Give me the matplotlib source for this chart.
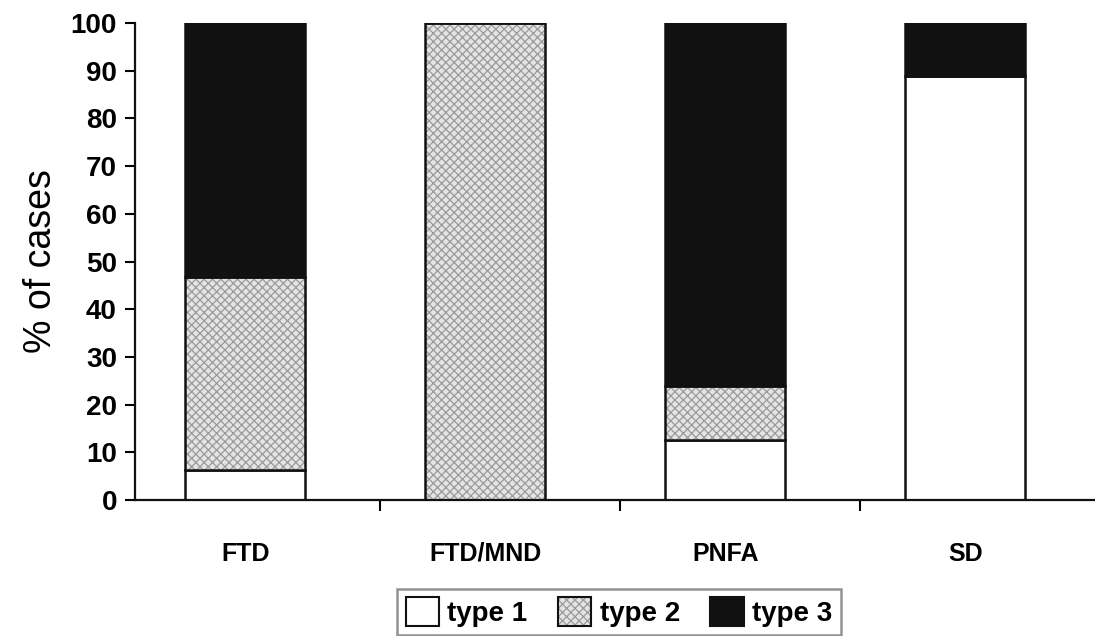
import matplotlib
matplotlib.use("Agg")
import matplotlib.pyplot as plt
from matplotlib.patches import Patch
from matplotlib.legend_handler import HandlerTuple
import numpy as np

# data (% of cases)
categories = ["FTD", "FTD/MND", "PNFA", "SD"]
type1 = [6.25, 0.0, 12.5, 88.9]
type2 = [40.6, 100.0, 11.3, 0.0]
type3 = [53.15, 0.0, 76.2, 11.1]
series_names = ["type 1", "type 2", "type 3"]

plt.rcParams["font.family"] = ["Liberation Sans", "DejaVu Sans"]
plt.rcParams["hatch.linewidth"] = 0.9

HATCH_GREY = "#9a9a9a"
FILL_GREY = "#e4e4e4"
BLACK = "#111111"

fig = plt.figure(figsize=(10.95, 6.36), dpi=100)
ax = fig.add_axes([0.1233, 0.2138, 0.8767, 0.75])

x = np.arange(len(categories))
w = 0.5
t1 = np.array(type1)
t2 = np.array(type2)
t3 = np.array(type3)

# type 1 - white
ax.bar(x, t1, w, color="white", edgecolor=BLACK, linewidth=1.8, zorder=2)
# type 2 - grey hatched, then black outline on top
ax.bar(x, t2, w, bottom=t1, color=FILL_GREY, edgecolor=HATCH_GREY,
       hatch="xxxx", linewidth=0, zorder=2)
ax.bar(x, t2, w, bottom=t1, fill=False, edgecolor=BLACK, linewidth=1.8, zorder=3)
# type 3 - black
ax.bar(x, t3, w, bottom=t1 + t2, color=BLACK, edgecolor=BLACK, linewidth=1.8, zorder=2)

ax.set_xlim(-0.46, 3.54)
ax.set_ylim(0, 100)
ax.set_yticks(range(0, 101, 10))
ax.set_yticklabels([str(v) for v in range(0, 101, 10)], fontsize=20, fontweight="bold")
ax.set_xticks(x)
ax.set_xticklabels(categories, fontsize=18, fontweight="bold")
ax.set_xticks([0.56, 1.56, 2.56], minor=True)
ax.tick_params(axis="x", which="major", length=0, pad=30)
ax.tick_params(axis="x", which="minor", length=8, width=1.5, direction="out")
ax.tick_params(axis="y", length=7, width=1.5, direction="out", pad=6)
for s in ["top", "right"]:
    ax.spines[s].set_visible(False)
for s in ["left", "bottom"]:
    ax.spines[s].set_linewidth(1.6)
    ax.spines[s].set_color(BLACK)

ax.set_ylabel("% of cases", fontsize=27, labelpad=8)

# legend
h1 = Patch(facecolor="white", edgecolor=BLACK, linewidth=1.5)
h2 = (Patch(facecolor=FILL_GREY, edgecolor=HATCH_GREY, hatch="xxxx", linewidth=0),
      Patch(fill=False, edgecolor=BLACK, linewidth=1.5))
h3 = Patch(facecolor=BLACK, edgecolor=BLACK, linewidth=1.5)
leg = fig.legend([h1, h2, h3], series_names, loc="center",
                 bbox_to_anchor=(619 / 1095, 1 - 612 / 636), ncol=3,
                 handler_map={tuple: HandlerTuple(ndivide=1, pad=0)},
                 prop={"size": 20, "weight": "bold"}, fancybox=False,
                 handlelength=1.2, handleheight=1.2, handletextpad=0.3,
                 columnspacing=1.1, borderpad=0.3, frameon=True)
leg.get_frame().set_edgecolor("#777777")
leg.get_frame().set_linewidth(1.8)

fig.savefig("out.png", dpi=100)
